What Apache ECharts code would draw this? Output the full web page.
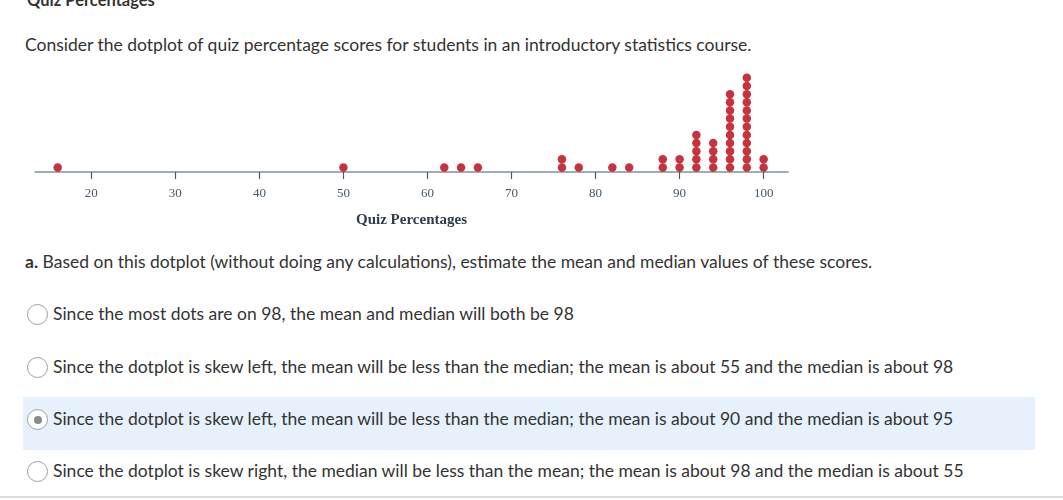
<!DOCTYPE html>
<html><head><meta charset="utf-8">
<script src="https://cdn.jsdelivr.net/npm/echarts@6/dist/echarts.min.js"></script>
<style>
html,body{margin:0;padding:0;background:#fff;width:1063px;height:500px;overflow:hidden;font-family:Lato,"Open Sans",sans-serif;color:#333;}
.t{position:absolute;white-space:nowrap;font-size:17.5px;line-height:20px;}
#chart{position:absolute;left:0;top:0;width:1063px;height:240px;}
.radio{position:absolute;left:27px;width:21px;height:21px;border:1px solid #a0a0a0;border-radius:50%;box-sizing:border-box;background:#fff;}
.sel::after{content:"";position:absolute;left:5.5px;top:5.5px;width:8px;height:8px;border-radius:50%;background:#8a8a8a;}
</style></head>
<body>
<div class="t" style="left:27px;top:-10px;font-weight:bold;font-size:16.5px;color:#333;">Quiz Percentages</div>
<div class="t" style="left:25px;top:35px;">Consider the dotplot of quiz percentage scores for students in an introductory statistics course.</div>
<div id="chart"></div>
<div class="t" style="left:25px;top:252px;"><b>a.</b> Based on this dotplot (without doing any calculations), estimate the mean and median values of these scores.</div>
<div style="position:absolute;left:23px;top:397px;width:1012px;height:53px;background:#e6f1fc;"></div>
<div class="radio" style="top:304px;"></div>
<div class="t" style="left:53px;top:304px;">Since the most dots are on 98, the mean and median will both be 98</div>
<div class="radio" style="top:357px;"></div>
<div class="t" style="left:53px;top:357px;">Since the dotplot is skew left, the mean will be less than the median; the mean is about 55 and the median is about 98</div>
<div class="radio sel" style="top:409px;"></div>
<div class="t" style="left:53px;top:409px;">Since the dotplot is skew left, the mean will be less than the median; the mean is about 90 and the median is about 95</div>
<div class="radio" style="top:461px;"></div>
<div class="t" style="left:53px;top:461px;">Since the dotplot is skew right, the median will be less than the mean; the mean is about 98 and the median is about 55</div>
<div style="position:absolute;left:0;top:496px;width:1063px;height:2px;background:#ddd;"></div>
<script>
const scores = [16, 50, 62, 64, 66, 76, 78, 82, 84, 88, 90, 92, 94, 96, 98, 100];
const counts = [1, 1, 1, 1, 1, 2, 1, 1, 1, 2, 2, 5, 4, 10, 12, 2];
const tickValues = [20, 30, 40, 50, 60, 70, 80, 90, 100];

const dots = [];
scores.forEach((s, i) => { for (let k = 1; k <= counts[i]; k++) dots.push([s, k]); });

const chart = echarts.init(document.getElementById('chart'));
chart.setOption({
  animation: false,
  grid: { left: 35, right: 275, top: 60, bottom: 68 },
  xAxis: {
    type: 'value', min: 13.3, max: 102.9,
    name: 'Quiz Percentages', nameLocation: 'middle', nameGap: 41,
    nameTextStyle: { fontFamily: 'Liberation Serif', fontWeight: 'bold', fontSize: 15, color: '#2e3c4c' },
    axisLine: { show: true, onZero: false, lineStyle: { color: '#7d929f', width: 1.5 } },
    axisTick: { show: true, customValues: tickValues, length: 7, inside: false, lineStyle: { color: '#4a5a68', width: 1.2 } },
    axisLabel: { customValues: tickValues, margin: 15, fontFamily: 'Liberation Serif', fontSize: 13, color: '#46566a' },
    splitLine: { show: false }
  },
  yAxis: { type: 'value', min: 0.45, max: 14.19, show: false, splitLine: { show: false } },
  series: [{
    type: 'scatter', data: dots, symbolSize: 8.5,
    itemStyle: { color: '#b8000e' }
  }]
});
</script>
</body></html>
